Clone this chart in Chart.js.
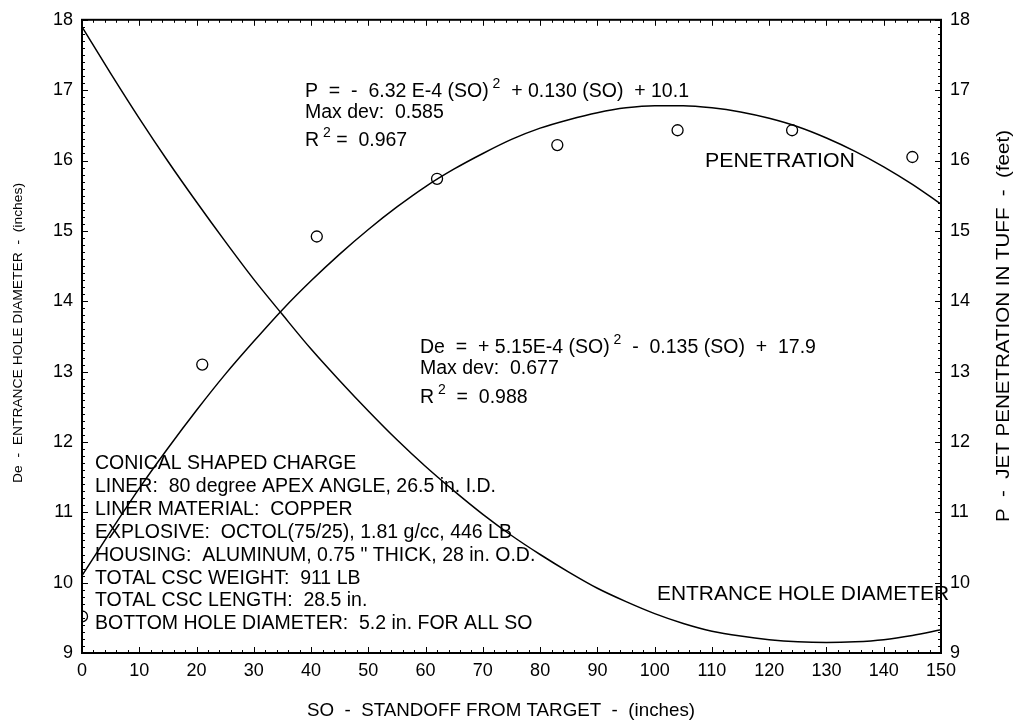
<!DOCTYPE html>
<html><head><meta charset="utf-8">
<script src="https://cdn.jsdelivr.net/npm/chart.js@4.4.1/dist/chart.umd.min.js"></script>
<style>html,body{margin:0;padding:0;background:#fff;overflow:hidden;}#wrap{width:1021px;height:725px;position:relative;}canvas{display:block;}</style>
</head><body><div id="wrap"><canvas id="c" width="1021" height="725" style="width:1021px;height:725px"></canvas></div>
<script>
// ---- data ----
const standoffGrid = [0,5,10,15,20,25,30,35,40,45,50,55,60,65,70,75,80,85,90,95,100,105,110,115,120,125,130,135,140,145,150];
const penetrationFit = [10.10,10.73,11.34,11.91,12.45,12.96,13.43,13.88,14.29,14.67,15.02,15.34,15.63,15.88,16.10,16.30,16.46,16.58,16.68,16.75,16.78,16.78,16.75,16.69,16.60,16.48,16.32,16.13,15.91,15.66,15.38];
const diameterFit = [17.90,17.24,16.60,15.99,15.41,14.85,14.31,13.81,13.32,12.87,12.44,12.03,11.65,11.30,10.97,10.67,10.40,10.15,9.92,9.73,9.56,9.42,9.31,9.24,9.19,9.16,9.15,9.16,9.19,9.25,9.33];
const standoffMeasured = [0,21,41,62,83,104,124,145];
const penetrationMeasured = [9.52,13.1,14.92,15.74,16.22,16.43,16.43,16.05];
const xTickStep = 10;
const yTickStep = 1;

const FONT = '"Liberation Sans", Arial, Helvetica, sans-serif';

const infoLines = [
  'CONICAL SHAPED CHARGE',
  'LINER:  80 degree APEX ANGLE, 26.5 in. I.D.',
  'LINER MATERIAL:  COPPER',
  'EXPLOSIVE:  OCTOL(75/25), 1.81 g/cc, 446 LB',
  'HOUSING:  ALUMINUM, 0.75 " THICK, 28 in. O.D.',
  'TOTAL CSC WEIGHT:  911 LB',
  'TOTAL CSC LENGTH:  28.5 in.',
  'BOTTOM HOLE DIAMETER:  5.2 in. FOR ALL SO'
];

function pts(xs, ys){ return xs.map((x,i)=>({x:x, y:ys[i]})); }

function drawRich(ctx, segs, x, y, size){
  let cx = x;
  for (const s of segs){
    if (s.sup){
      ctx.font = Math.round(size*0.72)+'px '+FONT;
      ctx.fillText(s.t, cx, y - size*0.45);
      cx += ctx.measureText(s.t).width;
    } else {
      ctx.font = size+'px '+FONT;
      ctx.fillText(s.t, cx, y);
      cx += ctx.measureText(s.t).width;
    }
  }
}
// draw text stretched horizontally to a given width (left aligned at 0)
function drawFit(ctx, text, x, y, size, width, align){
  ctx.save();
  ctx.font = size + 'px ' + FONT;
  const w = ctx.measureText(text).width;
  const k = width / w;
  ctx.translate(x, y);
  ctx.scale(k, 1);
  ctx.textAlign = align || 'left';
  ctx.fillText(text, 0, 0);
  ctx.restore();
}

const decor = {
  id:'decor',
  afterDraw(chart){
    const ctx = chart.ctx, a = chart.chartArea, x = chart.scales.x, y = chart.scales.y;
    ctx.save();
    ctx.strokeStyle = '#000';
    ctx.lineWidth = 1;
    ctx.beginPath();
    for (let v = x.min; v <= x.max + 1e-9; v += 2){
      const px = Math.round(x.getPixelForValue(v)) + 0.5;
      const len = (Math.round(v) % 10 === 0) ? 6 : 3;
      ctx.moveTo(px, a.bottom); ctx.lineTo(px, a.bottom - len);
      ctx.moveTo(px, a.top); ctx.lineTo(px, a.top + len);
    }
    for (let i = 0; i <= 90; i++){
      const v = y.min + i/10;
      const py = Math.round(y.getPixelForValue(v)) + 0.5;
      const len = (i % 10 === 0) ? 6 : 3;
      ctx.moveTo(a.left, py); ctx.lineTo(a.left + len, py);
      ctx.moveTo(a.right, py); ctx.lineTo(a.right - len, py);
    }
    ctx.stroke();
    ctx.lineWidth = 2;
    ctx.strokeRect(a.left, a.top, a.right - a.left, a.bottom - a.top);

    ctx.fillStyle = '#000';
    ctx.textBaseline = 'alphabetic';
    ctx.textAlign = 'left';
    const S = 19.5;
    drawRich(ctx, [{t:'P  =  -  6.32 E-4 (SO)'},{t:' 2',sup:true},{t:'  + 0.130 (SO)  + 10.1'}], 305, 97, S);
    drawRich(ctx, [{t:'Max dev:  0.585'}], 305, 118, S);
    drawRich(ctx, [{t:'R'},{t:' 2',sup:true},{t:' =  0.967'}], 305, 146, S);
    drawFit(ctx, 'PENETRATION', 705, 167, 19.5, 150);
    drawRich(ctx, [{t:'De  =  + 5.15E-4 (SO)'},{t:' 2',sup:true},{t:'  -  0.135 (SO)  +  17.9'}], 420, 353, S);
    drawRich(ctx, [{t:'Max dev:  0.677'}], 420, 374, S);
    drawRich(ctx, [{t:'R'},{t:' 2',sup:true},{t:'  =  0.988'}], 420, 403, S);
    ctx.font = '19.5px ' + FONT;
    infoLines.forEach((s,i)=>ctx.fillText(s, 95, 469 + i*22.9));
    drawFit(ctx, 'ENTRANCE HOLE DIAMETER', 657, 600, 20, 292);

    drawFit(ctx, 'SO  -  STANDOFF FROM TARGET  -  (inches)', 307, 716, 19, 388);

    ctx.save();
    ctx.translate(18, 483);
    ctx.rotate(-Math.PI/2);
    ctx.textBaseline = 'middle';
    drawFit(ctx, 'De  -  ENTRANCE HOLE DIAMETER  -  (inches)', 0, 0, 13, 300);
    ctx.restore();

    ctx.save();
    ctx.translate(1004, 522);
    ctx.rotate(-Math.PI/2);
    ctx.textBaseline = 'middle';
    drawFit(ctx, 'P  -  JET PENETRATION IN TUFF  -  (feet)', 0, 0, 18, 392);
    ctx.restore();
    ctx.restore();
  }
};

const tickFont = {size:18, family:FONT};
new Chart(document.getElementById('c'), {
  type:'scatter',
  data:{ datasets:[
    { label:'De fit', data:pts(standoffGrid, diameterFit), yAxisID:'y', showLine:true, pointRadius:0,
      borderColor:'#000', borderWidth:1.5, cubicInterpolationMode:'monotone', clip:0 },
    { label:'P fit', data:pts(standoffGrid, penetrationFit), yAxisID:'y2', showLine:true, pointRadius:0,
      borderColor:'#000', borderWidth:1.5, cubicInterpolationMode:'monotone', clip:0 },
    { label:'P measured', data:pts(standoffMeasured, penetrationMeasured), yAxisID:'y2', showLine:false,
      pointRadius:5.5, pointStyle:'circle', pointBorderColor:'#000', pointBackgroundColor:'rgba(255,255,255,0)',
      pointBorderWidth:1.3, clip:0 }
  ]},
  options:{
    responsive:false, maintainAspectRatio:false, animation:false, devicePixelRatio:1,
    layout:{padding:{top:16,left:0,right:0,bottom:0}},
    plugins:{legend:{display:false}, tooltip:{enabled:false}},
    scales:{
      x:{type:'linear', min:0, max:150, position:'bottom',
         ticks:{stepSize:xTickStep, font:tickFont, color:'#000', padding:7, maxRotation:0, autoSkip:false},
         grid:{display:false, drawTicks:false}, border:{display:false},
         afterFit(s){ s.height = 72; }},
      y:{type:'linear', min:9, max:18, position:'left',
         ticks:{stepSize:yTickStep, font:tickFont, color:'#000', padding:9, autoSkip:false},
         grid:{display:false, drawTicks:false}, border:{display:false},
         afterFit(s){ s.width = 82; }},
      y2:{type:'linear', min:9, max:18, position:'right',
         ticks:{stepSize:yTickStep, font:tickFont, color:'#000', padding:9, autoSkip:false},
         grid:{display:false, drawTicks:false}, border:{display:false},
         afterFit(s){ s.width = 80; }}
    }
  },
  plugins:[decor]
});
</script></body></html>
